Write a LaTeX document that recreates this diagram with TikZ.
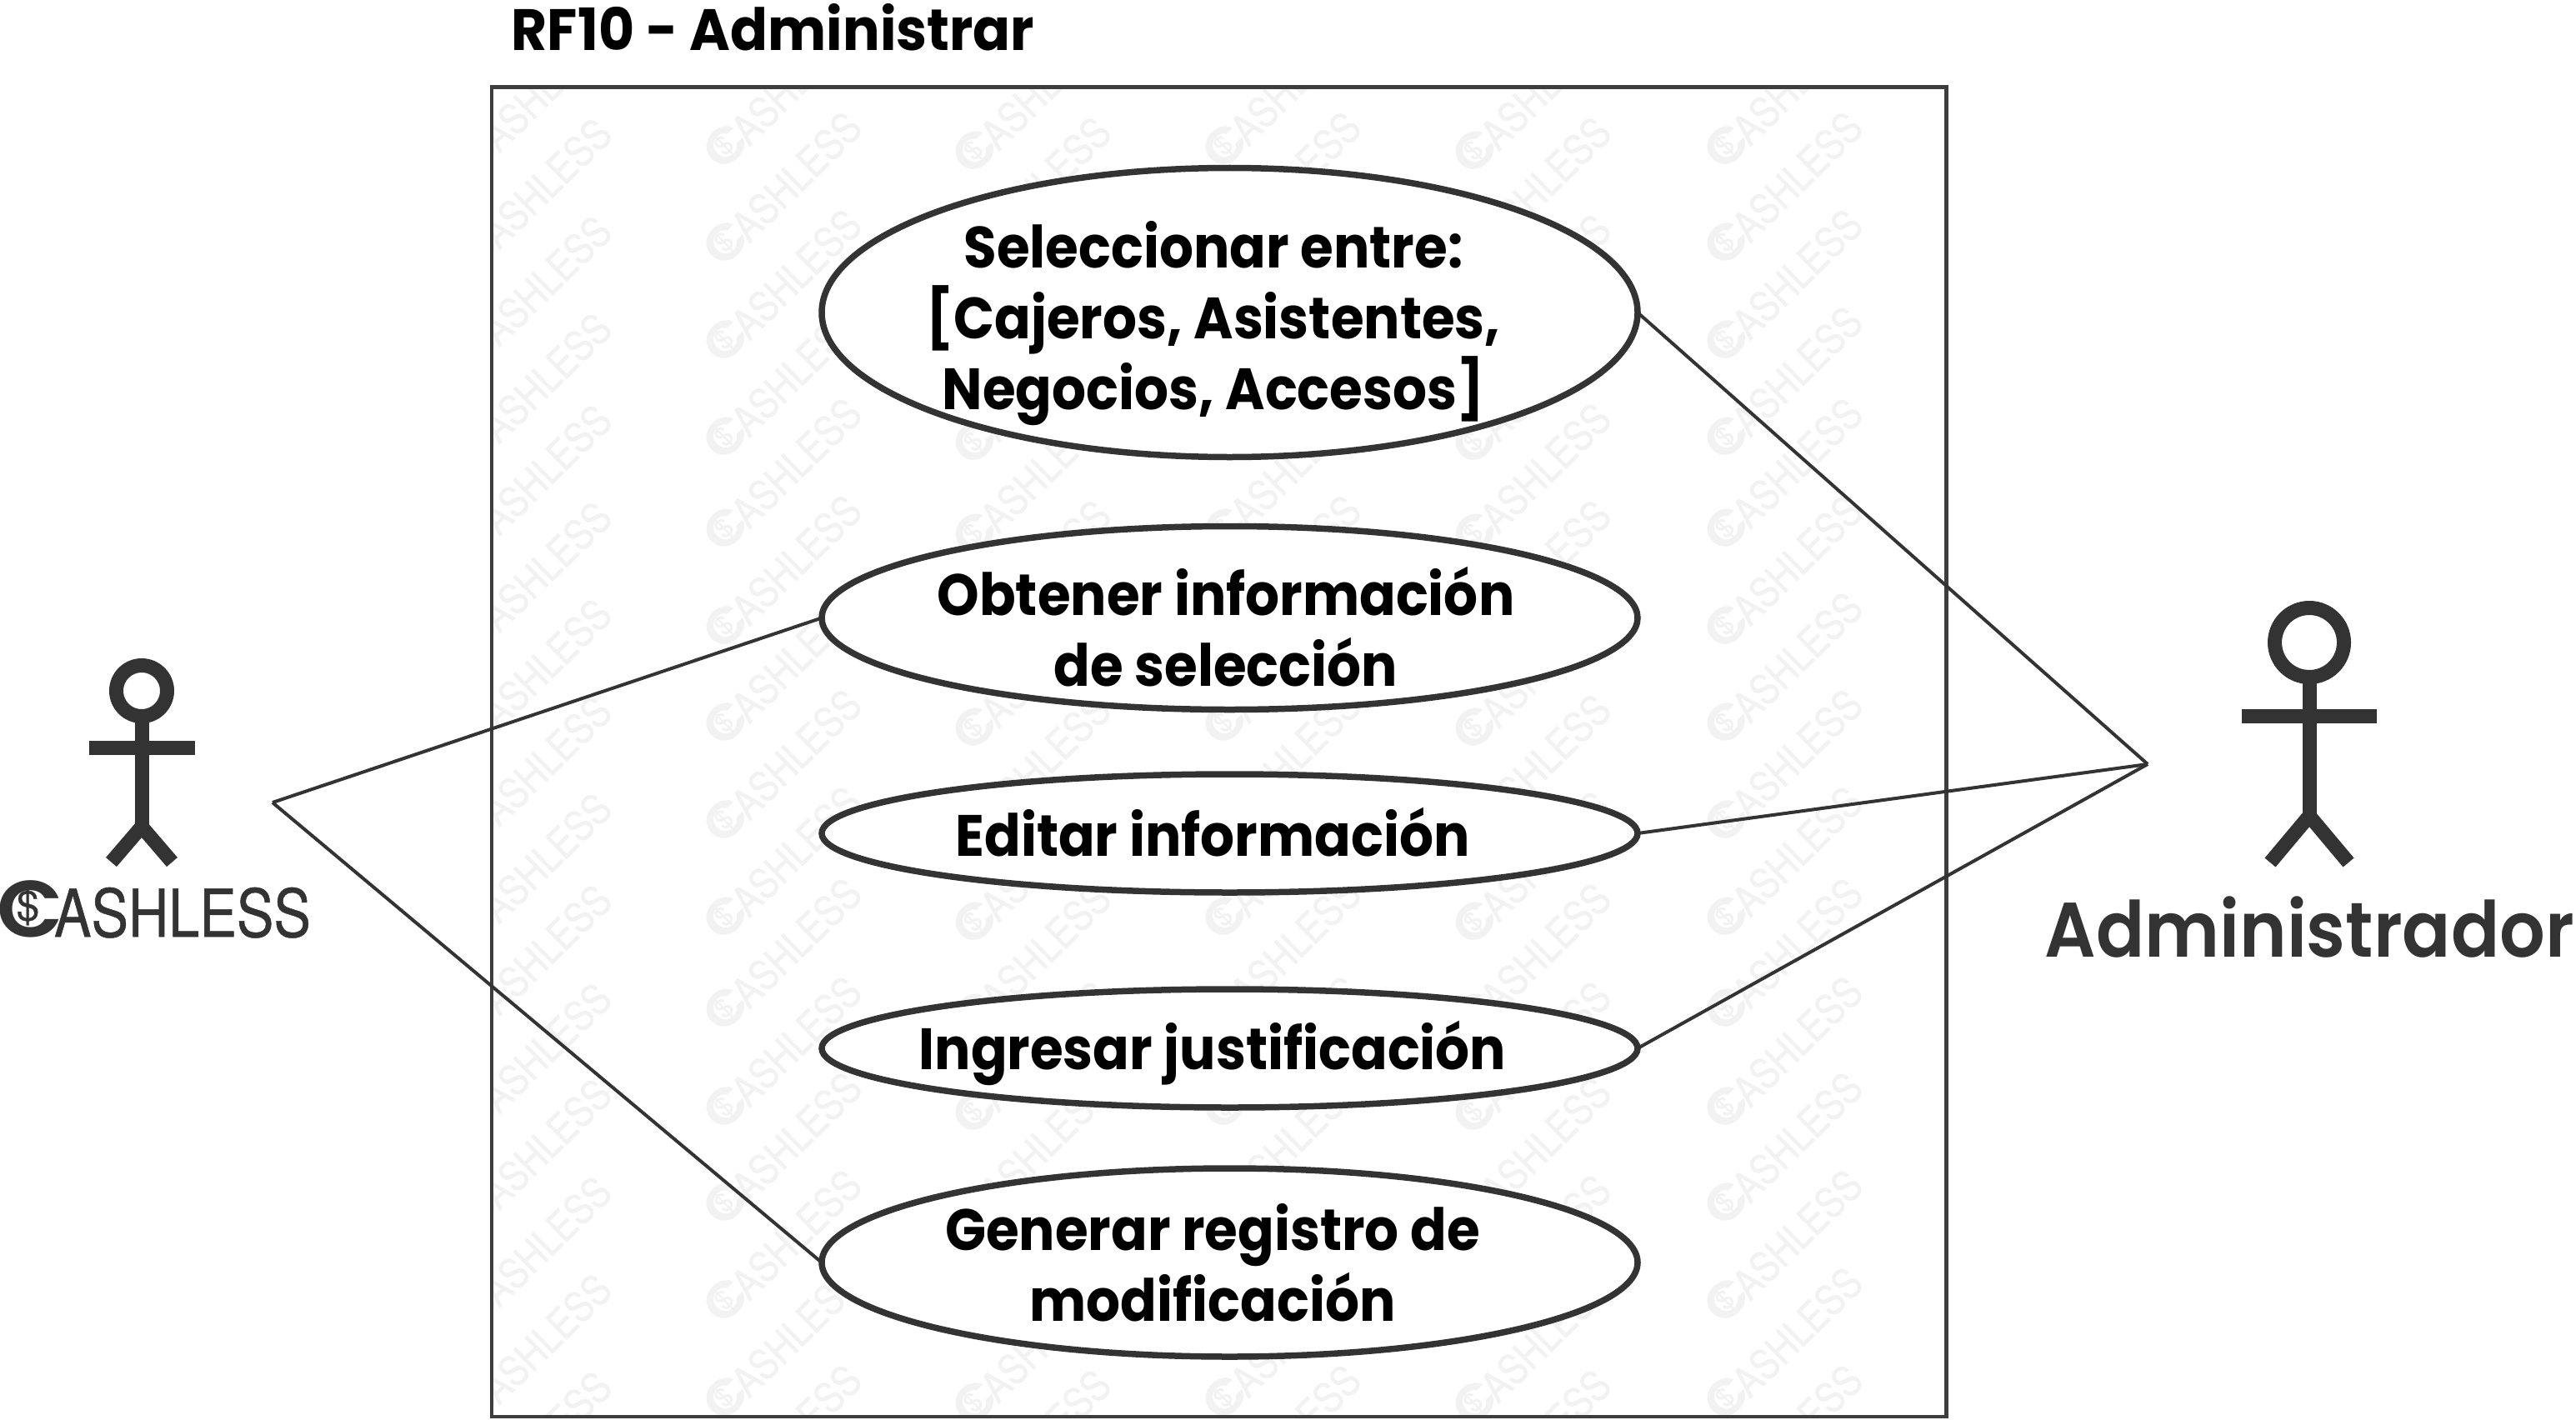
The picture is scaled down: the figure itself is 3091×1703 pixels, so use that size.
\documentclass[tikz,border=0pt]{standalone}
\usepackage{fontspec}
\setmainfont{Poppins SemiBold}
\newfontfamily\popuc[FakeStretch=0.92]{Poppins Bold}
\newfontfamily\poptitle[FakeStretch=0.947]{Poppins Bold}
\newfontfamily\popmed[FakeStretch=0.925]{Poppins SemiBold}
\newfontfamily\cashC[FakeStretch=1.08]{Poppins SemiBold}
\newfontfamily\cashA[FakeStretch=0.84,FakeBold=0.6]{TeX Gyre Heros}
\newfontfamily\cashD[FakeBold=0.5]{TeX Gyre Heros}
\definecolor{ink}{HTML}{333333}
\definecolor{wm}{HTML}{F2F2F2}
\newlength\pxu \setlength\pxu{0.01cm}
\newcommand\cashmark{\hbox{%
  \hspace*{-4\pxu}\makebox[71\pxu][l]{\fontsize{27.3}{30}\cashC C}%
  \makebox[0pt][r]{\raisebox{20\pxu}{\makebox[67\pxu][c]{\fontsize{14}{16}\cashD\$}}}%
  \hspace{-2\pxu}{\fontsize{22.6}{26}\cashA ASHLESS}}}
\tikzset{
  px/.style={x=0.01cm,y=-0.01cm},
  conn/.style={draw=ink,line width=4\pxu},
  usecase/.style={ellipse,draw=ink,fill=white,line width=7.5\pxu,inner sep=0pt,outer sep=0pt,minimum width=979\pxu},
  uctext/.style={align=center,text=black,font=\fontsize{19.9}{24.2}\popuc,inner sep=0pt},
  limb/.style={draw=ink,line width=17\pxu,line cap=butt},
  wmark/.style={text=wm,inner sep=0pt,outer sep=0pt,anchor=west,rotate=44.5,scale=0.63,transform shape},
}
\usetikzlibrary{shapes.geometric}
\begin{document}
\begin{tikzpicture}[px]
\useasboundingbox (0,0) rectangle (3091,1703);
\fill[white] (0,0) rectangle (3091,1703);
% watermark
\begin{scope}
\clip (590,104.5) rectangle (2335.5,1700);
\foreach \cx/\off in {571/8,871/0,1170/6,1470/0,1770/6,2072/0}{
  \foreach \cy in {175.5,291.5,408.5,525,635,751.5,868,984.5,1101,1211,1329,1444,1561,1678,1795}{
    \node[wmark] at (\cx-16,\cy+\off+15) {\cashmark};
  }
}
\end{scope}
% system box
\node[anchor=base west,inner sep=0pt,font=\fontsize{19.9}{24}\poptitle] (title) at (613,61) {RF10 - Administrar};
\draw[draw=ink!95!white,line width=4.5\pxu] (590,104.5) rectangle (2335.5,1700);
% use cases
\node[usecase,minimum height=347\pxu] (e1) at (1475.5,375) {};
\node[usecase,minimum height=220\pxu] (e2) at (1475.5,741.5) {};
\node[usecase,minimum height=142\pxu] (e3) at (1475.5,1000) {};
\node[usecase,minimum height=142\pxu] (e4) at (1475.5,1258) {};
\node[usecase,minimum height=226\pxu] (e5) at (1475.5,1515) {};
\node[uctext] (t1) at (1456,388) {Seleccionar entre:\\{}[Cajeros, Asistentes,\\Negocios, Accesos]};
\node[uctext] (t2) at (1471,752) {Obtener información\\de selección};
\node[uctext] (t3) at (1455,999) {Editar información};
\node[uctext] (t4) at (1455,1264) {Ingresar justificación};
\node[uctext] (t5) at (1455,1515) {Generar registro de\\modificación};
% left actor
\draw[limb] (170,829) circle (30.5);
\draw[limb] (170,860) -- (170,990);
\draw[limb] (107,897.5) -- (234,897.5);
\draw[limb,line join=miter] (133.5,1034.5) -- (170,992) -- (206.5,1034.5);
\node[text=ink,inner sep=0pt,outer sep=0pt,anchor=west] (cash) at (0,1091) {\cashmark};
\coordinate (la) at (327,963);
% right actor
\draw[limb] (2771,771) circle (41.5);
\draw[limb] (2771,812) -- (2771,977);
\draw[limb] (2690,859) -- (2852,859);
\draw[limb,line join=miter] (2724,1035) -- (2771,979) -- (2818,1035);
\node[anchor=base west,inner sep=0pt,text=ink,font=\fontsize{26.4}{30}\popmed] (admin) at (2453,1148) {Administrador};
\coordinate (ra) at (2577,917);
% connectors
\draw[conn] (la) -- (e2.west);
\draw[conn] (la) -- (e5.west);
\draw[conn] (ra) -- (e1.east);
\draw[conn] (ra) -- (e3.east);
\draw[conn] (ra) -- (e4.east);
\end{tikzpicture}
\end{document}
